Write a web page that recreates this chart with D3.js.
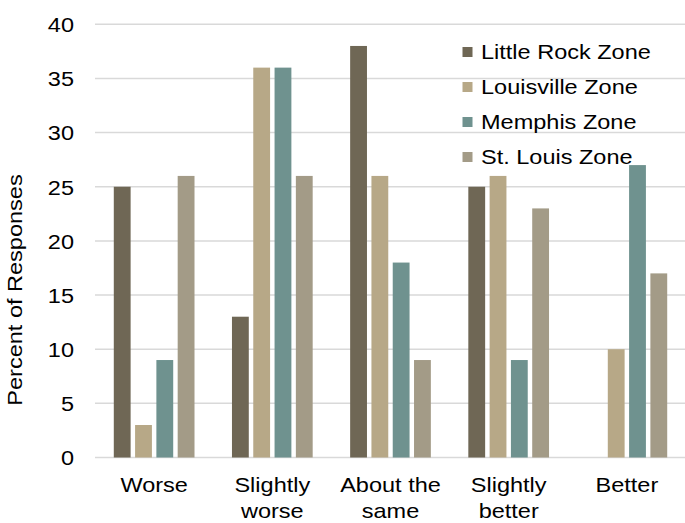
<!DOCTYPE html>
<html><head><meta charset="utf-8">
<script src="https://cdn.jsdelivr.net/npm/d3@7"></script>
<style>
html,body{margin:0;padding:0;background:#fff;}
text{font-family:"Liberation Sans",Arial,sans-serif;fill:#000;}
</style></head>
<body><svg id="chart" width="685" height="523"></svg>
<script>
const categories = [["Worse"],["Slightly","worse"],["About the","same"],["Slightly","better"],["Better"]];
const seriesNames = ["Little Rock Zone","Louisville Zone","Memphis Zone","St. Louis Zone"];
const littleRock = [25,13,38,25,0];
const louisville = [3,36,26,26,10];
const memphis = [9,36,18,9,27];
const stLouis = [26,26,9,23,17];
const colors = ["#6f6755","#b7a887","#6f928f","#a39b87"];
const yTicks = [0,5,10,15,20,25,30,35,40];
const yLabel = "Percent of Responses";

const values = [littleRock, louisville, memphis, stLouis];
const svg = d3.select("#chart");
const FS = 21, SX = 1.12;

const catKeys = categories.map(c => c.join(" "));
const x0 = d3.scaleBand().domain(catKeys).range([95, 686]).paddingInner(0.317).paddingOuter(0.159);
const x1 = d3.scaleBand().domain(seriesNames).range([0, x0.bandwidth()]).paddingInner(0.21).paddingOuter(0);
const y = d3.scaleLinear().domain([0, 40]).range([457.5, 24.3]);

// gridlines
svg.append("g").selectAll("line").data(yTicks).join("line")
  .attr("x1", 95).attr("x2", 685)
  .attr("y1", d => y(d)).attr("y2", d => y(d))
  .attr("stroke", "#d9d9d9").attr("stroke-width", 1.5);

// y tick labels
const yAxis = d3.axisLeft(y).tickValues(yTicks).tickSize(0).tickPadding(0);
const gy = svg.append("g").attr("transform", "translate(74,0)").call(yAxis);
gy.select(".domain").remove();
gy.selectAll("text").attr("font-size", FS).attr("font-family", "Liberation Sans, Arial, sans-serif")
  .attr("fill", "#000").attr("x", 0).attr("dy", "0.35em")
  .attr("transform", `scale(${SX},1)`);

// bars
seriesNames.forEach((s, si) => {
  svg.append("g").selectAll("rect").data(values[si]).join("rect")
    .attr("x", (d, i) => x0(catKeys[i]) + x1(s))
    .attr("width", x1.bandwidth())
    .attr("y", d => y(d))
    .attr("height", d => y(0) - y(d))
    .attr("fill", colors[si]);
});

// x labels
const gx = svg.append("g");
categories.forEach((lines, i) => {
  const cx = x0(catKeys[i]) + x0.bandwidth() / 2;
  const t = gx.append("text").attr("text-anchor", "middle").attr("font-size", FS)
    .attr("transform", `translate(${cx},0) scale(${SX},1)`);
  lines.forEach((ln, j) => {
    t.append("tspan").attr("x", 0).attr("y", 492.5 + j * 25.5).text(ln);
  });
});

// y axis title
svg.append("text").attr("text-anchor", "middle").attr("font-size", FS)
  .attr("transform", `translate(22,290) rotate(-90) scale(${SX},1)`)
  .text(yLabel);

// legend
const lg = svg.append("g");
seriesNames.forEach((s, i) => {
  const ly = 52 + i * 35;
  lg.append("rect").attr("x", 462.5).attr("y", ly - 5).attr("width", 10).attr("height", 10).attr("fill", colors[i]);
  lg.append("text").attr("font-size", FS).attr("dy", "0.35em")
    .attr("transform", `translate(481,${ly}) scale(${SX},1)`).text(s);
});
</script></body></html>
